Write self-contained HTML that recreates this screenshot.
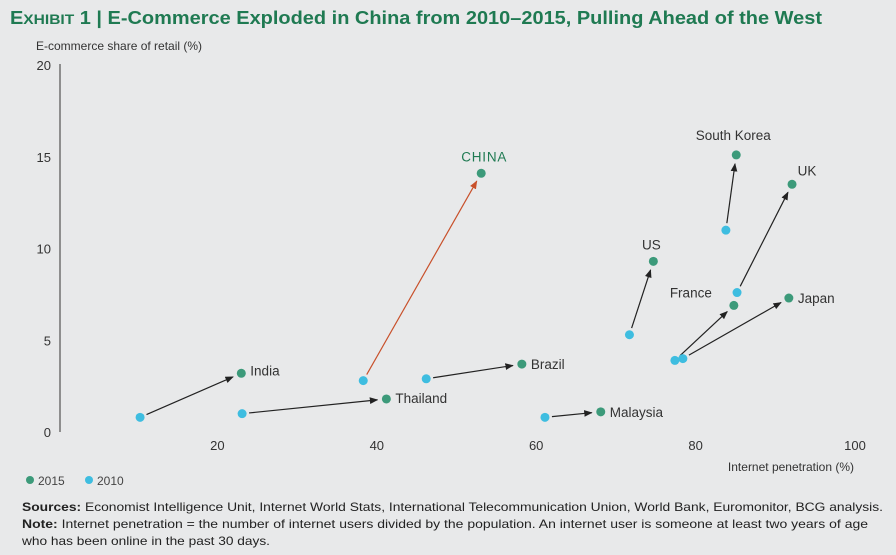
<!DOCTYPE html>
<html><head><meta charset="utf-8"><style>
html,body{margin:0;padding:0;background:#e8e9ea;}
svg{display:block;font-family:"Liberation Sans",sans-serif;}
</style></head><body>
<svg id="chart" width="896" height="555" viewBox="0 0 896 555">
<defs><marker id="ah" viewBox="0 0 10 10" refX="9" refY="5" markerWidth="7" markerHeight="7" orient="auto"><path d="M0,1 L10,5 L0,9 z" fill="#222"/></marker>
<marker id="ahr" viewBox="0 0 10 10" refX="9" refY="5" markerWidth="7" markerHeight="7" orient="auto"><path d="M0,1 L10,5 L0,9 z" fill="#c8502a"/></marker></defs>
<rect width="896" height="555" fill="#e8e9ea"/>
<text x="10" y="24" font-size="18" font-weight="bold" fill="#1f7a52" textLength="812" lengthAdjust="spacingAndGlyphs">E<tspan font-size="14">XHIBIT</tspan> 1 | E-Commerce Exploded in China from 2010–2015, Pulling Ahead of the West</text>
<text x="36" y="50" font-size="12" fill="#333">E-commerce share of retail (%)</text>
<text x="854" y="471" font-size="12" fill="#333" text-anchor="end">Internet penetration (%)</text>
<line x1="60" y1="64" x2="60" y2="432" stroke="#333" stroke-width="1"/>
<g id="yt"></g><g id="xt"></g><g id="arrows"></g><g id="pts"></g><g id="labels"></g>
<g>
<circle cx="30" cy="480" r="4" fill="#3c9a7a"/>
<text x="38" y="485" font-size="12" fill="#444">2015</text>
<circle cx="89" cy="480" r="4" fill="#3ebde0"/>
<text x="97" y="485" font-size="12" fill="#444">2010</text>
</g>
<text x="22" y="511" font-size="12" fill="#222" textLength="861" lengthAdjust="spacingAndGlyphs"><tspan font-weight="bold">Sources:</tspan> Economist Intelligence Unit, Internet World Stats, International Telecommunication Union, World Bank, Euromonitor, BCG analysis.</text>
<text x="22" y="528" font-size="12" fill="#222" textLength="846" lengthAdjust="spacingAndGlyphs"><tspan font-weight="bold">Note:</tspan> Internet penetration = the number of internet users divided by the population. An internet user is someone at least two years of age</text>
<text x="22" y="545" font-size="12" fill="#222" textLength="248" lengthAdjust="spacingAndGlyphs">who has been online in the past 30 days.</text>
</svg>
<script>
const countries=["India","Thailand","China","Brazil","Malaysia","US","South Korea","UK","France","Japan"];
const x2010=[10.3,23.1,38.3,46.2,61.1,71.7,83.8,85.2,77.4,78.4];
const y2010=[0.8,1.0,2.8,2.9,0.8,5.3,11.0,7.6,3.9,4.0];
const x2015=[23.0,41.2,53.1,58.2,68.1,74.7,85.1,92.1,84.8,91.7];
const y2015=[3.2,1.8,14.1,3.7,1.1,9.3,15.1,13.5,6.9,7.3];
const xTicks=[20,40,60,80,100];
const yTicks=[0,5,10,15,20];
const NS="http://www.w3.org/2000/svg";
const X=v=>58+v*7.97, Y=v=>432-v*18.35;
function mk(t,a,p){const e=document.createElementNS(NS,t);for(const k in a)e.setAttribute(k,a[k]);p.appendChild(e);return e;}
const yt=document.getElementById('yt'),xt=document.getElementById('xt');
yTicks.forEach(v=>{const t=mk('text',{x:51,y:Y(v)+5,'font-size':13,fill:'#333','text-anchor':'end'},yt);t.textContent=v;

});
xTicks.forEach(v=>{const t=mk('text',{x:X(v),y:450,'font-size':13,fill:'#333','text-anchor':'middle'},xt);t.textContent=v;

});
const ar=document.getElementById('arrows'),pg=document.getElementById('pts'),lg=document.getElementById('labels');
const labelOff={India:[9,2,'start'],Thailand:[9,4,'start'],China:[3,-12,'middle'],Brazil:[9,5,'start'],Malaysia:[9,5,'start'],US:[-2,-12,'middle'],"South Korea":[-3,-15,'middle'],UK:[15,-9,'middle'],France:[-22,-8,'end'],Japan:[9,5,'start']};
countries.forEach((c,i)=>{
 const slug=c.toLowerCase().replace(/ /g,'-');
 const x1=X(x2010[i]),y1=Y(y2010[i]),x2=X(x2015[i]),y2=Y(y2015[i]);
 const dx=x2-x1,dy=y2-y1,d=Math.hypot(dx,dy);
 const s=7/d,e=9/d, red=c==="China";
 const l=mk('line',{x1:x1+dx*s,y1:y1+dy*s,x2:x2-dx*e,y2:y2-dy*e,stroke:red?'#c8502a':'#222','stroke-width':1.2,'marker-end':red?'url(#ahr)':'url(#ah)'},ar);
 
 
 const a=mk('circle',{cx:x1,cy:y1,r:4.5,fill:'#3ebde0'},pg);
 
 
 const b=mk('circle',{cx:x2,cy:y2,r:4.5,fill:'#3c9a7a'},pg);
 
 
 const o=labelOff[c];
 const t=mk('text',{x:x2+o[0],y:y2+o[1],'font-size':13.5,fill:red?'#1f7a52':'#333','text-anchor':o[2],'letter-spacing':red?'0.8':'0'},lg);
 t.textContent=red?'CHINA':c;
 
 
});
</script>
</body></html>
